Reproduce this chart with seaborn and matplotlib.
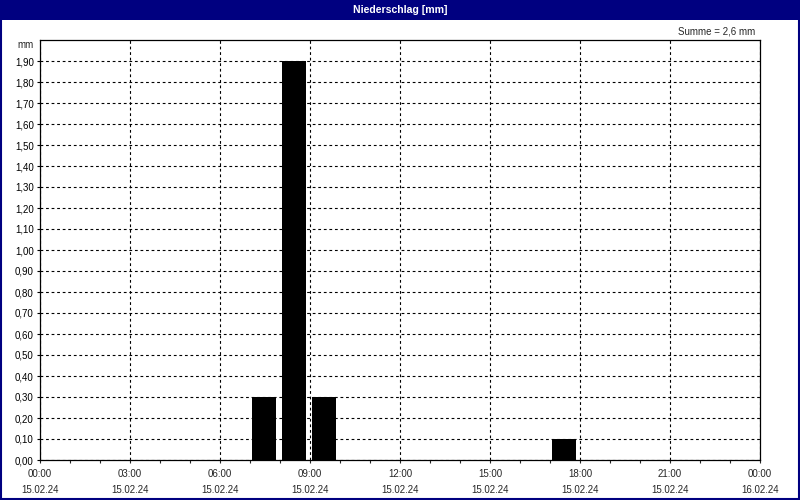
import numpy as np
import pandas as pd
import matplotlib
matplotlib.use("Agg")
import matplotlib.pyplot as plt
from matplotlib.patches import Rectangle
import seaborn as sns

# hourly precipitation, 15.02.24 (hour of day -> mm)
hours = list(range(24))
rain_mm = [0, 0, 0, 0, 0, 0, 0, 0.3, 1.9, 0.3, 0, 0, 0, 0, 0, 0, 0, 0.1, 0, 0, 0, 0, 0, 0]
tick_hours = [0, 3, 6, 9, 12, 15, 18, 21, 24]
tick_times = ["00:00", "03:00", "06:00", "09:00", "12:00", "15:00", "18:00", "21:00", "00:00"]
tick_dates = ["15.02.24"] * 8 + ["16.02.24"]
y_ticks = [round(0.1 * i, 1) for i in range(20)]

navy = "#000080"

sns.set_style("white")
plt.rcParams['font.family'] = ['Liberation Sans', 'DejaVu Sans']

df = pd.DataFrame({"hour": hours, "mm": rain_mm})
# bar drawn over the hour interval, slightly offset like the logger software
df["pos"] = df["hour"] + 0.47

fig = plt.figure(figsize=(8, 5), dpi=100)
ax = fig.add_axes([0.05, 0.08, 0.90, 0.84])

sns.barplot(data=df, x="pos", y="mm", native_scale=True, width=0.8,
            color="black", saturation=1, linewidth=0, ax=ax, zorder=3)

ax.set_xlim(0, 24)
ax.set_ylim(0, 2.0)
ax.set_xlabel("")
ax.set_ylabel("")

# y axis
ax.set_yticks(y_ticks)
ax.set_yticklabels([f"{v:.2f}".replace(".", ",") for v in y_ticks])
ax.tick_params(axis="y", length=2.5, width=0.8, pad=2, labelsize=7, left=True, colors="black")

# x axis
ax.set_xticks(tick_hours)
ax.set_xticks(hours[1:], minor=True)
ax.set_xticklabels([f"{t}\n{d}" for t, d in zip(tick_times, tick_dates)])
ax.tick_params(axis="x", which="both", length=2.5, width=0.8, pad=4, labelsize=7, bottom=True, direction="out")
for lab in ax.get_xticklabels():
    lab.set_linespacing(1.75)

ax.grid(True, which="major", color="black", linestyle=(0, (2.5, 2.5)), linewidth=0.8)
ax.set_axisbelow(True)
for s in ax.spines.values():
    s.set_visible(True)
    s.set_color("black")
    s.set_linewidth(0.9)

# unit label at the top of the y axis and total
fig.text(34 / 800, 1 - 45 / 500, "mm", ha="right", va="center", fontsize=7)
total = sum(rain_mm)
fig.text(755 / 800, 1 - 31 / 500, f"Summe = {total:.1f} mm".replace(".", ","),
         ha="right", va="center", fontsize=7)

# title bar and frame
fig.patches.append(Rectangle((0, 0.96), 1, 0.04, transform=fig.transFigure,
                             facecolor=navy, edgecolor="none", zorder=0))
fig.patches.append(Rectangle((0.001, 0.002), 0.998, 0.997, transform=fig.transFigure,
                             facecolor="none", edgecolor=navy, linewidth=1.5, zorder=1))
fig.text(0.5, 0.98, "Niederschlag [mm]", ha="center", va="center",
         color="white", fontsize=7.6, fontweight="bold")

fig.savefig("out.png", dpi=100)
